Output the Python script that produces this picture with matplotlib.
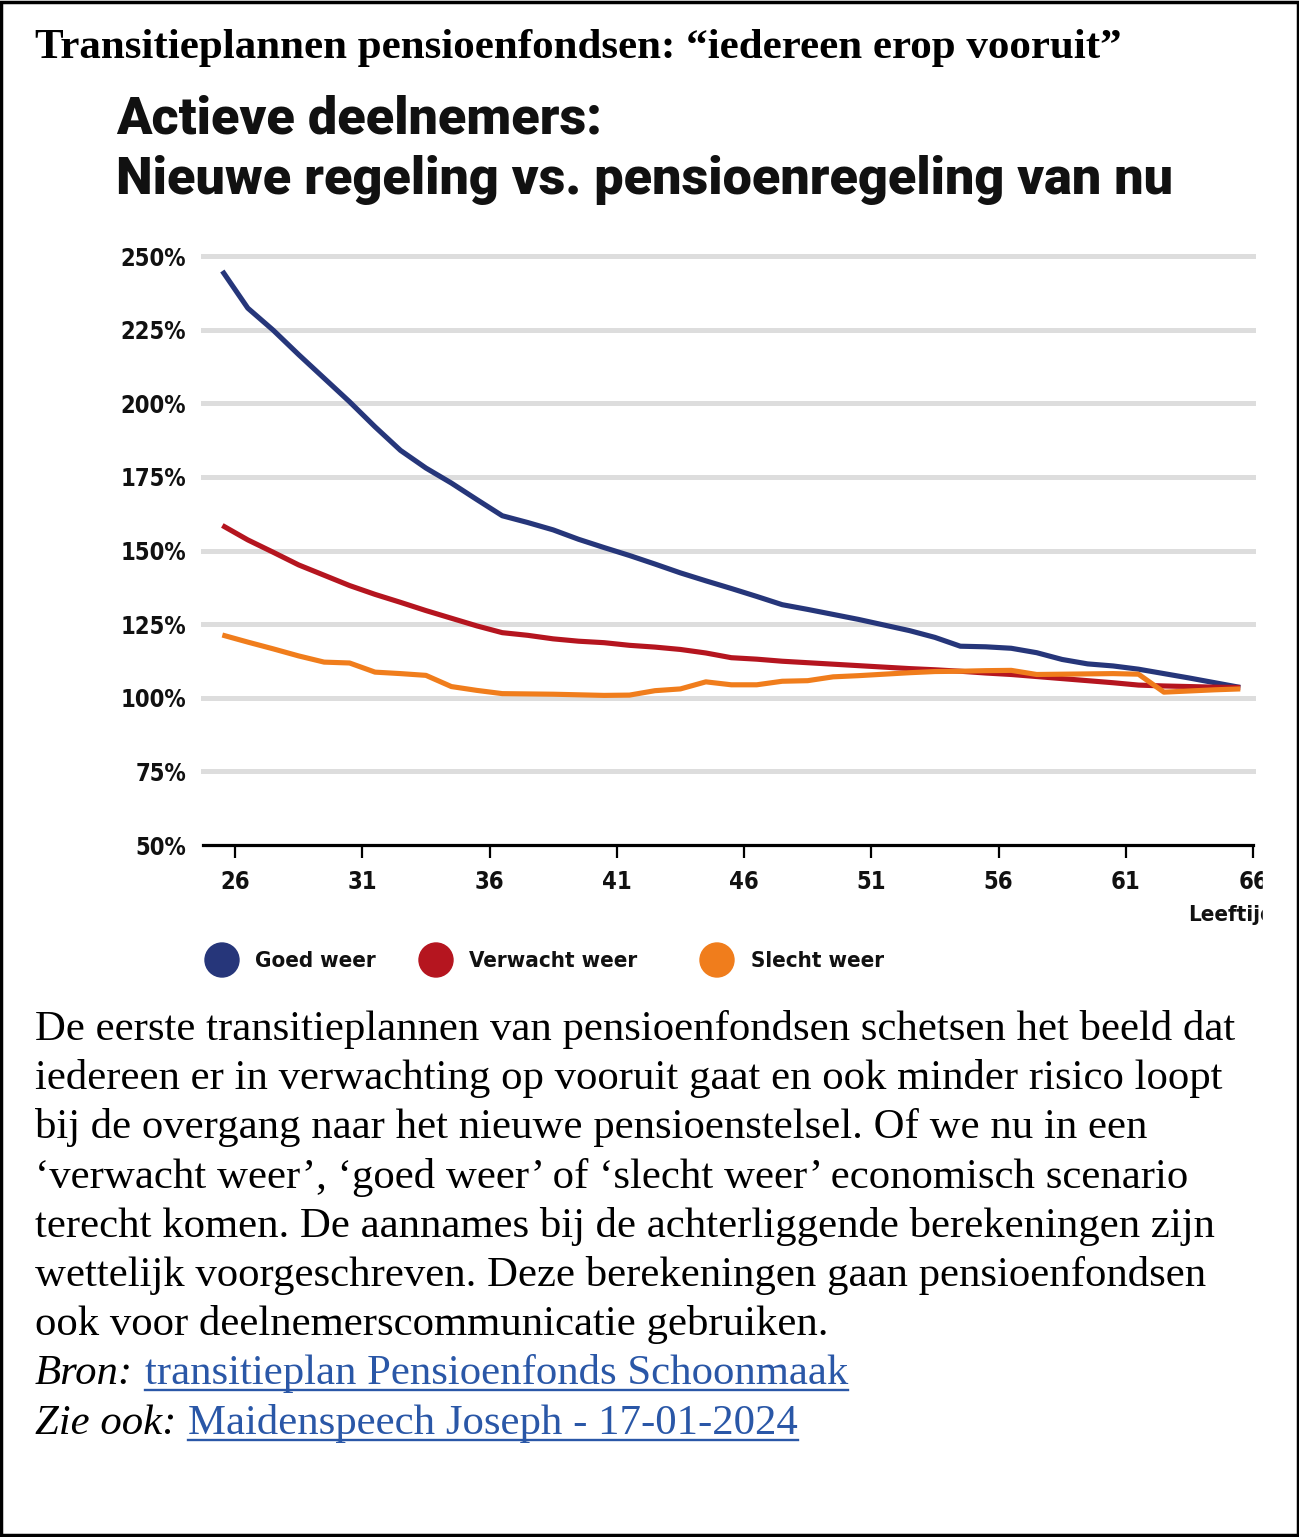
import matplotlib
matplotlib.use('Agg')
import matplotlib.pyplot as plt
from matplotlib.patches import Rectangle, Circle
from matplotlib.lines import Line2D
import numpy as np

W, H = 1299, 1537

# ages 25..65, each value plotted at the middle of the year
ages = list(range(25, 66))
goed = [244.9, 232.3, 224.8, 216.5, 208.5, 200.5, 192.0, 184.0, 178.0, 172.9,
        167.3, 161.8, 159.5, 157.0, 153.8, 151.0, 148.3, 145.4, 142.4, 139.7,
        137.1, 134.4, 131.6, 130.0, 128.3, 126.6, 124.7, 122.8, 120.5, 117.5,
        117.3, 116.8, 115.3, 113.0, 111.5, 110.8, 109.7, 108.2, 106.7, 105.1,
        103.5]
verwacht = [158.5, 153.6, 149.4, 145.1, 141.6, 138.1, 135.1, 132.4, 129.6, 127.0,
            124.4, 122.1, 121.2, 120.0, 119.2, 118.7, 117.8, 117.2, 116.4, 115.2,
            113.6, 113.1, 112.4, 111.9, 111.4, 110.9, 110.4, 109.9, 109.5, 109.0,
            108.4, 107.9, 107.2, 106.5, 105.8, 105.1, 104.3, 104.0, 103.8, 103.6,
            103.5]
slecht = [121.3, 118.9, 116.6, 114.2, 112.1, 111.8, 108.7, 108.2, 107.6, 103.8,
          102.5, 101.4, 101.3, 101.2, 101.0, 100.8, 100.9, 102.4, 103.0, 105.4,
          104.4, 104.4, 105.6, 105.8, 107.1, 107.5, 108.0, 108.5, 108.9, 109.0,
          109.2, 109.3, 107.9, 108.0, 108.1, 108.2, 108.0, 101.9, 102.3, 102.7,
          103.0]

series_names = ['Goed weer', 'Verwacht weer', 'Slecht weer']
series_colors = ['#26367a', '#b5151f', '#f07d1c']
yticks = [50, 75, 100, 125, 150, 175, 200, 225, 250]
xticks = [26, 31, 36, 41, 46, 51, 56, 61, 66]

title = 'Transitieplannen pensioenfondsen: \u201ciedereen erop vooruit\u201d'
heading = ['Actieve deelnemers:', 'Nieuwe regeling vs. pensioenregeling van nu']
body = [
    'De eerste transitieplannen van pensioenfondsen schetsen het beeld dat',
    'iedereen er in verwachting op vooruit gaat en ook minder risico loopt',
    'bij de overgang naar het nieuwe pensioenstelsel. Of we nu in een',
    '\u2018verwacht weer\u2019, \u2018goed weer\u2019 of \u2018slecht weer\u2019 economisch scenario',
    'terecht komen. De aannames bij de achterliggende berekeningen zijn',
    'wettelijk voorgeschreven. Deze berekeningen gaan pensioenfondsen',
    'ook voor deelnemerscommunicatie gebruiken.',
]
links = [('Bron:', 'transitieplan Pensioenfonds Schoonmaak'),
         ('Zie ook:', 'Maidenspeech Joseph - 17-01-2024')]

serif = 'Liberation Serif'
heavy = dict(family='Roboto', weight='black')
cond = dict(family='DejaVu Sans', weight='bold', stretch='condensed')
link_color = '#2a57a7'
body_size = 30.8


def fx(x):
    return x / W


def fy(y):
    return 1 - y / H


fig = plt.figure(figsize=(W / 100, H / 100), dpi=100)
fig.patch.set_facecolor('white')

# titles
fig.text(fx(35), fy(58), title, fontfamily=serif, fontweight='bold',
         fontsize=31, va='baseline', ha='left')
fig.text(fx(116), fy(133), heading[0], fontsize=37.5, va='baseline', color='#111111', **heavy)
fig.text(fx(116), fy(194), heading[1], fontsize=37.5, va='baseline', color='#111111', **heavy)

# chart
ax = fig.add_axes([fx(203), fy(845), (1253 - 203) / W, (845 - 256) / H])
x = np.array(ages) + 0.5
for vals, col in zip([goed, verwacht, slecht], series_colors):
    ax.plot(x, vals, color=col, lw=3.7, solid_capstyle='butt')

ax.set_xlim(24.74, 66)
ax.set_ylim(50, 250)
for yv in yticks[1:]:
    ax.axhline(yv, color='#dddddd', lw=3.6, zorder=0, clip_on=False)

for s in ['top', 'right', 'left']:
    ax.spines[s].set_visible(False)
ax.spines['bottom'].set_linewidth(2.3)
ax.spines['bottom'].set_zorder(5)

ax.set_yticks(yticks)
ax.set_yticklabels([f'{v}%' for v in yticks])
ax.set_xticks(xticks)
ax.set_xticklabels([str(v) for v in xticks])
ax.tick_params(axis='y', length=0, pad=12)
ax.tick_params(axis='x', length=9, width=1.6, direction='out', pad=9)
for lab in ax.get_yticklabels() + ax.get_xticklabels():
    lab.set_fontsize(17)
    lab.set_fontfamily(cond['family'])
    lab.set_fontweight(cond['weight'])
    lab.set_fontstretch(cond['stretch'])
    lab.set_color('#111111')

fig.text(fx(1188), fy(915), 'Leeftijd', fontsize=16, va='center', ha='left',
         color='#111111', **cond)

# legend
for (cx, tx), name, col in zip([(222, 255), (436, 469), (717, 751)], series_names, series_colors):
    fig.patches.append(Circle((cx, H - 960), 17, transform=None, color=col))
    fig.text(fx(tx), fy(961), name, fontsize=16, va='center', ha='left',
             color='#111111', **cond)

# crop of the chart image at the right
fig.patches.append(Rectangle((fx(1263), fy(1000)), fx(1294) - fx(1263), fy(860) - fy(1000),
                             transform=fig.transFigure, color='white', zorder=10))

# body text
base = 1040
step = 49.2
for i, line in enumerate(body):
    fig.text(fx(35), fy(base + i * step), line, fontfamily=serif, fontsize=body_size,
             va='baseline', ha='left')

fig.canvas.draw()
renderer = fig.canvas.get_renderer()
for j, (lead, ltxt) in enumerate(links):
    yb = base + (len(body) + j) * step
    t1 = fig.text(fx(35), fy(yb), lead, fontfamily=serif, fontstyle='italic',
                  fontsize=body_size, va='baseline', ha='left')
    bb = t1.get_window_extent(renderer)
    t2 = fig.text((bb.x1 + 12) / W, fy(yb), ltxt, fontfamily=serif, fontsize=body_size,
                  va='baseline', ha='left', color=link_color)
    bb2 = t2.get_window_extent(renderer)
    fig.add_artist(Line2D([bb2.x0 / W, bb2.x1 / W], [fy(yb + 6), fy(yb + 6)],
                          transform=fig.transFigure, color=link_color, lw=1.7))

# border
fig.patches.append(Rectangle((0.001, 0.001), 0.998, 0.998, transform=fig.transFigure,
                             fill=False, edgecolor='black', lw=2.5, zorder=20))

fig.savefig('out.png', dpi=100)
